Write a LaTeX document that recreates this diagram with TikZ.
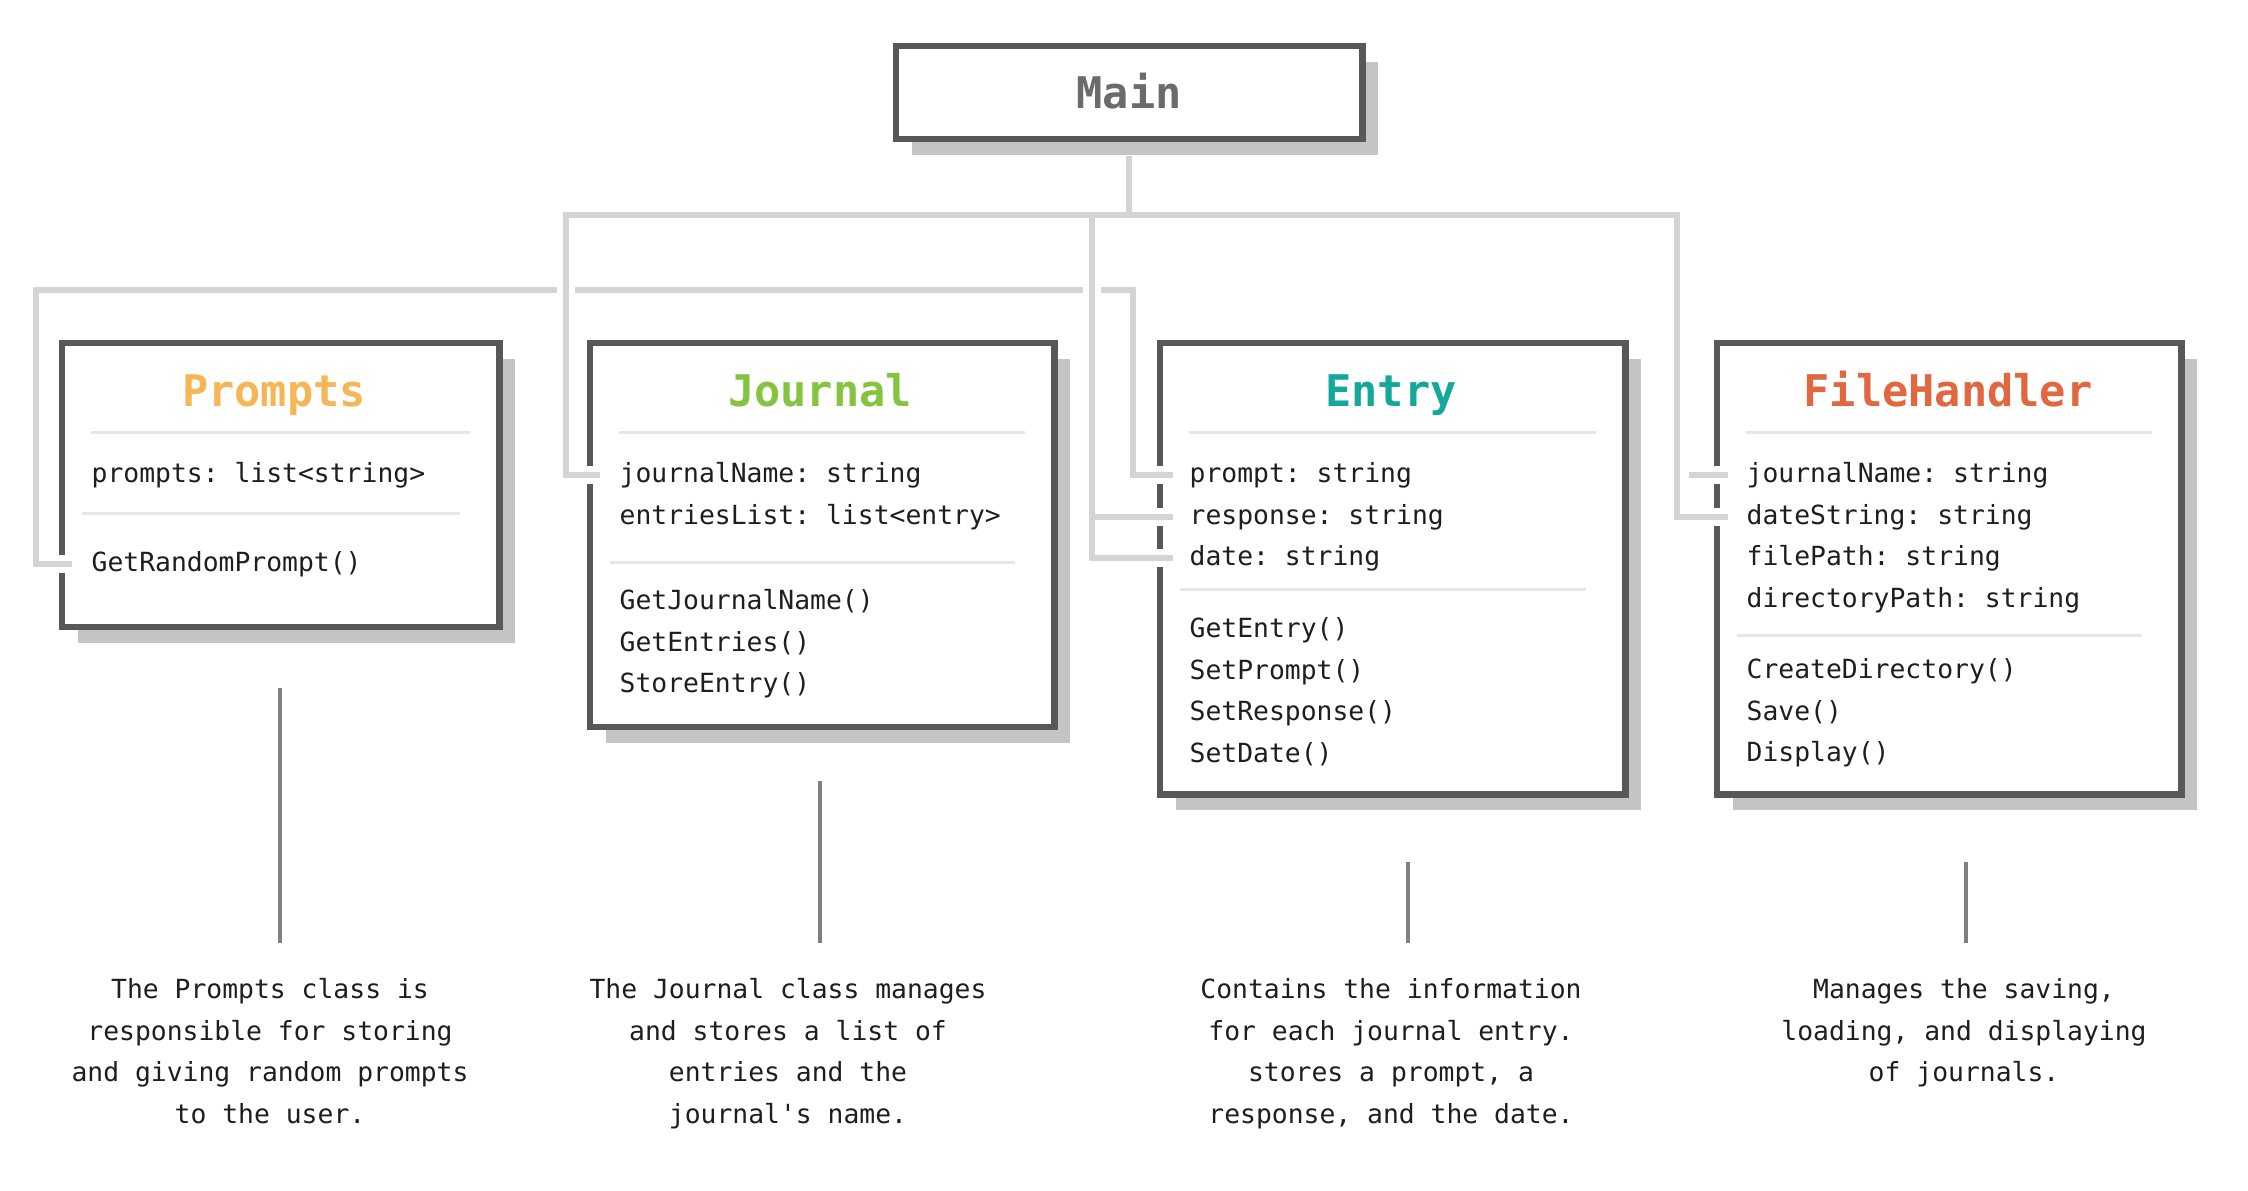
\documentclass[tikz,border=0pt]{standalone}
\usepackage{fontspec}
\setmonofont{DejaVu Sans Mono}
\usetikzlibrary{shadows}

\definecolor{boxborder}{HTML}{585858}
\definecolor{boxshadow}{HTML}{C4C4C4}
\definecolor{linkgray}{HTML}{D4D4D4}
\definecolor{rulegray}{HTML}{E6E6E6}
\definecolor{stemgray}{HTML}{808080}
\definecolor{textdark}{HTML}{1E1E1E}
\definecolor{maingray}{HTML}{6B6B6B}
\definecolor{promptscol}{HTML}{F6B656}
\definecolor{journalcol}{HTML}{86C440}
\definecolor{entrycol}{HTML}{14A89A}
\definecolor{filecol}{HTML}{E0673F}

\tikzset{
  classbox/.style={draw=boxborder, line width=0.065cm, fill=white, inner sep=0pt, outer sep=0pt, anchor=north west,
    drop shadow={shadow xshift=0.16cm, shadow yshift=-0.16cm, fill=boxshadow, opacity=1}},
  classname/.style={font=\ttfamily\bfseries\fontsize{12.4}{14}\selectfont, anchor=base, inner sep=0pt},
  member/.style={font=\ttfamily\fontsize{7.5}{9}\selectfont, text=textdark, anchor=mid west, inner sep=0pt},
  divider/.style={draw=rulegray, line width=0.03cm},
  link/.style={draw=linkgray, line width=0.06cm},
  halo/.style={draw=white, line width=0.18cm},
  stem/.style={draw=stemgray, line width=0.04cm},
  blurb/.style={font=\ttfamily\fontsize{7.5}{11.8}\selectfont, text=textdark, align=center, anchor=north, inner sep=0pt}
}

\begin{document}
\begin{tikzpicture}[x=0.01cm, y=-0.01cm]
  \useasboundingbox (0,0) rectangle (2248,1190);

  \node[classbox, minimum width=4.66cm, minimum height=0.93cm] (main) at (896,46) {};
  \node[classname, text=maingray] (main-title) at (1129,108) {Main};

  \node[classbox, minimum width=4.37cm, minimum height=2.84cm] (prompts) at (62,343) {};
  \node[classbox, minimum width=4.64cm, minimum height=3.84cm] (journal) at (590,343) {};
  \node[classbox, minimum width=4.65cm, minimum height=4.51cm] (entry) at (1160,343) {};
  \node[classbox, minimum width=4.64cm, minimum height=4.51cm] (filehandler) at (1717,343) {};

  \foreach \n/\t/\c/\x in {prompts/Prompts/promptscol/274, journal/Journal/journalcol/820,
                           entry/Entry/entrycol/1391, filehandler/FileHandler/filecol/1948}
    \node[classname, text=\c] (\n-title) at (\x,406) {\t};

  \foreach \n/\d in {prompts/1.70, journal/2.19, entry/2.46, filehandler/2.92} {
    \draw[divider] ([xshift=0.29cm,yshift=-0.89cm]\n.north west) -- ([xshift=-0.29cm,yshift=-0.89cm]\n.north east);
    \draw[divider] ([xshift=0.20cm,yshift=-\d cm]\n.north west) -- ([xshift=-0.39cm,yshift=-\d cm]\n.north east);
  }

  \node[member] (pr-a1) at (91,475) {prompts: list<string>};
  \node[member] (pr-m1) at (91,564) {GetRandomPrompt()};

  \foreach \t [count=\i] in {journalName: string, entriesList: list<entry>}
    \node[member] (jo-a\i) at (619,{475+41.6*(\i-1)}) {\t};
  \foreach \t [count=\i] in {GetJournalName(), GetEntries(), StoreEntry()}
    \node[member] (jo-m\i) at (619,{602+41.6*(\i-1)}) {\t};

  \foreach \t [count=\i] in {prompt: string, response: string, date: string}
    \node[member] (en-a\i) at (1189,{475+41.6*(\i-1)}) {\t};
  \foreach \t [count=\i] in {GetEntry(), SetPrompt(), SetResponse(), SetDate()}
    \node[member] (en-m\i) at (1189,{630+41.6*(\i-1)}) {\t};

  \foreach \t [count=\i] in {journalName: string, dateString: string, filePath: string, directoryPath: string}
    \node[member] (fh-a\i) at (1746,{475+41.6*(\i-1)}) {\t};
  \foreach \t [count=\i] in {CreateDirectory(), Save(), Display()}
    \node[member] (fh-m\i) at (1746,{671+41.6*(\i-1)}) {\t};

  \coordinate (link-l) at (36,290);
  \coordinate (link-r) at (1133,290);
  \draw[link, preaction={halo}] ([xshift=-0.19cm]pr-m1.mid west) -| (link-l) -- (link-r)
    |- ([xshift=-0.16cm]en-a1.mid west);

  \coordinate (bus-l) at (566,215);
  \coordinate (bus-e) at (1092,215);
  \coordinate (bus-r) at (1677,215);
  \foreach \s in {halo, link} {
    \draw[\s] ([xshift=-0.19cm]jo-a1.mid west) -| (bus-l) -- (bus-r) |- ([xshift=-0.18cm]fh-a2.mid west);
    \draw[\s] (bus-e) |- ([xshift=-0.16cm]en-a3.mid west);
    \draw[\s] (bus-e |- en-a2.mid west) -- ([xshift=-0.16cm]en-a2.mid west);
    \draw[\s] ([xshift=-0.57cm]fh-a1.mid west) -- ([xshift=-0.18cm]fh-a1.mid west);
  }
  \draw[link] ([yshift=-0.17cm]main.south) -- (main.south |- bus-l);

  \node[blurb] (pr-blurb) at (270,978) {The Prompts class is\\responsible for storing\\and giving random prompts\\to the user.};
  \node[blurb] (jo-blurb) at (788,978) {The Journal class manages\\and stores a list of\\entries and the\\journal\textquotesingle s name.};
  \node[blurb] (en-blurb) at (1391,978) {Contains the information\\for each journal entry.\\stores a prompt, a\\response, and the date.};
  \node[blurb] (fh-blurb) at (1964,978) {Manages the saving,\\loading, and displaying\\of journals.};

  \coordinate (pr-stem) at (280,688);
  \coordinate (jo-stem) at (820,781);
  \coordinate (en-stem) at (1408,862);
  \coordinate (fh-stem) at (1966,862);
  \foreach \n in {pr, jo, en, fh}
    \draw[stem, shorten >=0.35cm] (\n-stem) -- (\n-stem |- \n-blurb.north);
\end{tikzpicture}
\end{document}
